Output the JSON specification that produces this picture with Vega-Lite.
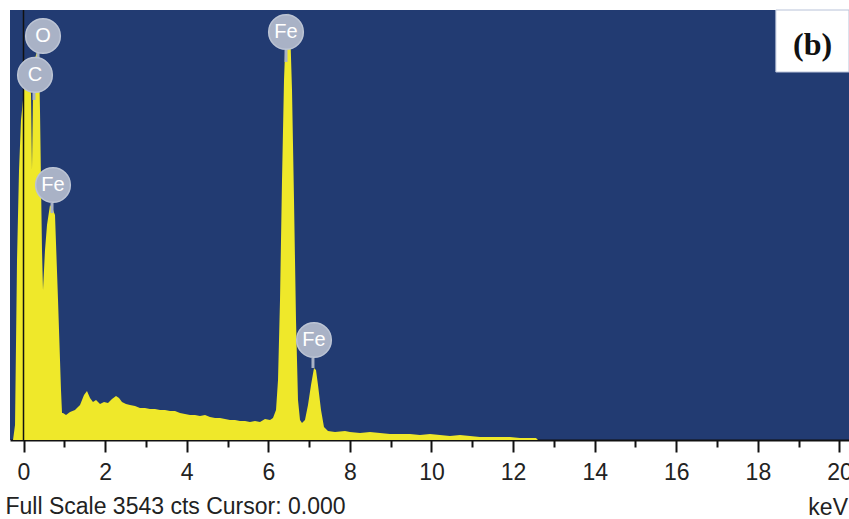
{
  "$schema": "https://vega.github.io/schema/vega-lite/v6.json",
  "width": 839,
  "height": 430,
  "autosize": {"type": "none"},
  "padding": {"left": 10, "top": 10, "right": 0, "bottom": 79},
  "background": "white",
  "config": {
    "view": {"fill": "#223b72", "stroke": null},
    "font": "Liberation Sans"
  },
  "title": {
    "text": "keV",
    "orient": "bottom",
    "anchor": "end",
    "frame": "group",
    "fontSize": 23,
    "fontWeight": "normal",
    "color": "#222222",
    "offset": 0,
    "dx": -1,
    "dy": -21
  },
  "datasets": {
    "spectrum": [
      {"keV": -0.331, "cts": 0}, {"keV": -0.257, "cts": 0}, {"keV": -0.208, "cts": 124},
      {"keV": -0.159, "cts": 1483}, {"keV": -0.11, "cts": 2225}, {"keV": -0.061, "cts": 2637},
      {"keV": 0.012, "cts": 2884}, {"keV": 0.086, "cts": 3049}, {"keV": 0.135, "cts": 3090},
      {"keV": 0.184, "cts": 2843}, {"keV": 0.208, "cts": 2225}, {"keV": 0.233, "cts": 2843},
      {"keV": 0.282, "cts": 3148}, {"keV": 0.331, "cts": 3197}, {"keV": 0.38, "cts": 3172},
      {"keV": 0.404, "cts": 2719}, {"keV": 0.453, "cts": 1566}, {"keV": 0.478, "cts": 1236},
      {"keV": 0.527, "cts": 1566}, {"keV": 0.576, "cts": 1772}, {"keV": 0.65, "cts": 1936},
      {"keV": 0.723, "cts": 1895}, {"keV": 0.772, "cts": 1854}, {"keV": 0.846, "cts": 1154},
      {"keV": 0.919, "cts": 412}, {"keV": 0.944, "cts": 222}, {"keV": 0.968, "cts": 222},
      {"keV": 1.042, "cts": 206}, {"keV": 1.14, "cts": 231}, {"keV": 1.262, "cts": 247},
      {"keV": 1.385, "cts": 288}, {"keV": 1.483, "cts": 371}, {"keV": 1.556, "cts": 404},
      {"keV": 1.63, "cts": 346}, {"keV": 1.703, "cts": 313}, {"keV": 1.777, "cts": 330},
      {"keV": 1.875, "cts": 297}, {"keV": 1.973, "cts": 313}, {"keV": 2.071, "cts": 305},
      {"keV": 2.169, "cts": 338}, {"keV": 2.267, "cts": 363}, {"keV": 2.341, "cts": 346},
      {"keV": 2.414, "cts": 313}, {"keV": 2.512, "cts": 297}, {"keV": 2.61, "cts": 288},
      {"keV": 2.733, "cts": 280}, {"keV": 2.855, "cts": 264}, {"keV": 2.978, "cts": 264},
      {"keV": 3.1, "cts": 255}, {"keV": 3.223, "cts": 255}, {"keV": 3.346, "cts": 247},
      {"keV": 3.468, "cts": 247}, {"keV": 3.591, "cts": 239}, {"keV": 3.713, "cts": 239},
      {"keV": 3.836, "cts": 222}, {"keV": 3.958, "cts": 214}, {"keV": 4.081, "cts": 206},
      {"keV": 4.203, "cts": 206}, {"keV": 4.326, "cts": 198}, {"keV": 4.449, "cts": 206},
      {"keV": 4.571, "cts": 190}, {"keV": 4.694, "cts": 181}, {"keV": 4.816, "cts": 181},
      {"keV": 4.939, "cts": 173}, {"keV": 5.061, "cts": 165}, {"keV": 5.184, "cts": 165},
      {"keV": 5.306, "cts": 157}, {"keV": 5.429, "cts": 157}, {"keV": 5.551, "cts": 148},
      {"keV": 5.674, "cts": 157}, {"keV": 5.797, "cts": 148}, {"keV": 5.919, "cts": 173},
      {"keV": 6.042, "cts": 165}, {"keV": 6.115, "cts": 181}, {"keV": 6.189, "cts": 247},
      {"keV": 6.238, "cts": 494}, {"keV": 6.287, "cts": 1154}, {"keV": 6.336, "cts": 2142},
      {"keV": 6.385, "cts": 2966}, {"keV": 6.434, "cts": 3420}, {"keV": 6.483, "cts": 3518},
      {"keV": 6.532, "cts": 3420}, {"keV": 6.581, "cts": 2884}, {"keV": 6.63, "cts": 1978},
      {"keV": 6.679, "cts": 989}, {"keV": 6.728, "cts": 330}, {"keV": 6.777, "cts": 165},
      {"keV": 6.826, "cts": 140}, {"keV": 6.899, "cts": 165}, {"keV": 6.973, "cts": 288},
      {"keV": 7.047, "cts": 453}, {"keV": 7.12, "cts": 593}, {"keV": 7.169, "cts": 577},
      {"keV": 7.218, "cts": 453}, {"keV": 7.292, "cts": 247}, {"keV": 7.365, "cts": 107},
      {"keV": 7.463, "cts": 74}, {"keV": 7.635, "cts": 66}, {"keV": 7.88, "cts": 74},
      {"keV": 8.002, "cts": 66}, {"keV": 8.248, "cts": 58}, {"keV": 8.493, "cts": 66},
      {"keV": 8.738, "cts": 58}, {"keV": 8.983, "cts": 49}, {"keV": 9.228, "cts": 49},
      {"keV": 9.473, "cts": 49}, {"keV": 9.718, "cts": 41}, {"keV": 9.963, "cts": 49},
      {"keV": 10.208, "cts": 41}, {"keV": 10.453, "cts": 33}, {"keV": 10.698, "cts": 41},
      {"keV": 10.944, "cts": 33}, {"keV": 11.189, "cts": 25}, {"keV": 11.434, "cts": 25},
      {"keV": 11.679, "cts": 25}, {"keV": 11.924, "cts": 25}, {"keV": 12.169, "cts": 16},
      {"keV": 12.414, "cts": 16}, {"keV": 12.561, "cts": 16}, {"keV": 12.61, "cts": 0},
      {"keV": 13.0, "cts": 0}, {"keV": 20.233, "cts": 0}
    ],
    "labels": [
      {"el": "O", "keV": 0.478, "cts": 3329},
      {"el": "C", "keV": 0.282, "cts": 3008},
      {"el": "Fe", "keV": 0.723, "cts": 2101},
      {"el": "Fe", "keV": 6.434, "cts": 3362},
      {"el": "Fe", "keV": 7.12, "cts": 824}
    ],
    "stems": [
      {"keV": 6.434, "top": 3214, "bottom": 3115},
      {"keV": 7.095, "top": 676, "bottom": 593},
      {"keV": 0.699, "top": 1953, "bottom": 1870},
      {"keV": 0.355, "top": 3189, "bottom": 3131},
      {"keV": 0.257, "top": 2859, "bottom": 2802}
    ],
    "panel": [
      {"x": 18.44, "x2": 20.233, "y": 3032, "y2": 3543, "tx": 19.34, "ty": 3255, "label": "(b)"}
    ],
    "origin": [{"keV": 0}]
  },
  "layer": [
    {
      "data": {"name": "spectrum"},
      "mark": {"type": "area", "color": "#efe82a", "interpolate": "linear", "clip": true},
      "encoding": {
        "x": {
          "field": "keV",
          "type": "quantitative",
          "scale": {"domain": [-0.331, 20.233], "nice": false, "zero": false},
          "axis": {
            "orient": "bottom",
            "values": [0, 0.5, 1, 1.5, 2, 2.5, 3, 3.5, 4, 4.5, 5, 5.5, 6, 6.5, 7, 7.5, 8, 8.5, 9, 9.5, 10, 10.5, 11, 11.5, 12, 12.5, 13, 13.5, 14, 14.5, 15, 15.5, 16, 16.5, 17, 17.5, 18, 18.5, 19, 19.5, 20],
            "labelExpr": "datum.value % 2 === 0 ? datum.label : ''",
            "tickSize": {"condition": {"test": "datum.value % 2 === 0", "value": 12}, "value": 7},
            "tickWidth": 2,
            "tickColor": "#111111",
            "domainColor": "#111111",
            "domainWidth": 2,
            "grid": false,
            "labelFontSize": 23,
            "labelColor": "#222222",
            "labelPadding": 9,
            "labelFlush": false,
            "labelOverlap": false,
            "title": "Full Scale 3543 cts Cursor: 0.000",
            "titleAnchor": "start",
            "titleAlign": "left",
            "titleX": -5,
            "titleY": 73,
            "titleBaseline": "alphabetic",
            "titleFontSize": 23,
            "titleFontWeight": "normal",
            "titleColor": "#222222"
          }
        },
        "y": {
          "field": "cts",
          "type": "quantitative",
          "scale": {"domain": [0, 3543], "nice": false},
          "axis": null
        }
      }
    },
    {
      "data": {"name": "origin"},
      "mark": {"type": "rule", "color": "#111111", "strokeWidth": 1.5},
      "encoding": {"x": {"field": "keV", "type": "quantitative"}}
    },
    {
      "data": {"name": "stems"},
      "mark": {"type": "rule", "color": "#a9b2c6", "strokeWidth": 3},
      "encoding": {
        "x": {"field": "keV", "type": "quantitative"},
        "y": {"field": "top", "type": "quantitative"},
        "y2": {"field": "bottom"}
      }
    },
    {
      "data": {"name": "labels"},
      "mark": {"type": "point", "shape": "circle", "filled": true, "size": 1200, "color": "#a9b2c6", "opacity": 1, "stroke": "#bcc4d4", "strokeWidth": 1.5},
      "encoding": {
        "x": {"field": "keV", "type": "quantitative"},
        "y": {"field": "cts", "type": "quantitative"}
      }
    },
    {
      "data": {"name": "labels"},
      "mark": {"type": "text", "color": "white", "fontSize": 20, "font": "Liberation Sans", "align": "center", "baseline": "middle"},
      "encoding": {
        "x": {"field": "keV", "type": "quantitative"},
        "y": {"field": "cts", "type": "quantitative"},
        "text": {"field": "el"}
      }
    },
    {
      "data": {"name": "panel"},
      "mark": {"type": "rect", "fill": "white", "stroke": "#b8c2d8", "strokeWidth": 1},
      "encoding": {
        "x": {"field": "x", "type": "quantitative"},
        "x2": {"field": "x2"},
        "y": {"field": "y", "type": "quantitative"},
        "y2": {"field": "y2"}
      }
    },
    {
      "data": {"name": "panel"},
      "mark": {"type": "text", "font": "Liberation Serif", "fontWeight": "bold", "fontSize": 32, "color": "#111111", "align": "center", "baseline": "middle"},
      "encoding": {
        "x": {"field": "tx", "type": "quantitative"},
        "y": {"field": "ty", "type": "quantitative"},
        "text": {"field": "label"}
      }
    }
  ]
}
